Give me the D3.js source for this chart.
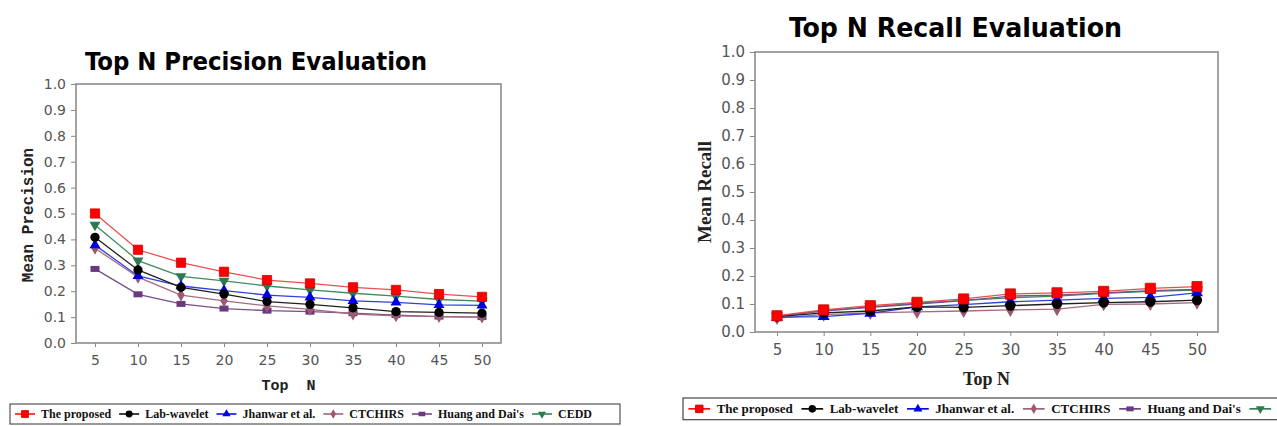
<!DOCTYPE html>
<html>
<head>
<meta charset="utf-8">
<script src="https://cdn.jsdelivr.net/npm/d3@7"></script>
<style>
  body { margin: 0; background: #fff; }
  svg { display: block; }
</style>
</head>
<body>
<div id="chart"></div>
<script>
// ---- data ----
const topN = [5, 10, 15, 20, 25, 30, 35, 40, 45, 50];
const methods = ["The proposed", "Lab-wavelet", "Jhanwar et al.", "CTCHIRS", "Huang and Dai's", "CEDD"];
const yTicks = [0, 0.1, 0.2, 0.3, 0.4, 0.5, 0.6, 0.7, 0.8, 0.9, 1.0];

// precision
const precProposed = [0.500, 0.360, 0.310, 0.275, 0.243, 0.230, 0.215, 0.205, 0.189, 0.178];
const precLab      = [0.408, 0.282, 0.215, 0.189, 0.160, 0.149, 0.136, 0.121, 0.118, 0.115];
const precJhanwar  = [0.378, 0.259, 0.220, 0.202, 0.185, 0.176, 0.163, 0.157, 0.147, 0.145];
const precCtchirs  = [0.366, 0.254, 0.185, 0.163, 0.143, 0.130, 0.112, 0.105, 0.102, 0.100];
const precHuang    = [0.286, 0.188, 0.151, 0.133, 0.125, 0.121, 0.115, 0.108, 0.102, 0.100];
const precCedd     = [0.456, 0.318, 0.257, 0.240, 0.220, 0.205, 0.192, 0.181, 0.168, 0.162];

// recall
const recProposed = [0.058, 0.079, 0.094, 0.106, 0.118, 0.136, 0.140, 0.145, 0.156, 0.162];
const recLab      = [0.055, 0.068, 0.075, 0.090, 0.088, 0.094, 0.100, 0.105, 0.108, 0.114];
const recJhanwar  = [0.053, 0.055, 0.067, 0.090, 0.098, 0.108, 0.114, 0.120, 0.124, 0.140];
const recCtchirs  = [0.050, 0.062, 0.068, 0.072, 0.075, 0.079, 0.082, 0.099, 0.100, 0.105];
const recHuang    = [0.057, 0.075, 0.088, 0.100, 0.112, 0.128, 0.132, 0.140, 0.148, 0.152];
const recCedd     = [0.056, 0.077, 0.090, 0.103, 0.113, 0.122, 0.128, 0.138, 0.145, 0.150];

const lineColors = ["#e8504f", "#202020", "#3040e0", "#a86a80", "#74508c", "#3f8c5f"];
const markColors = ["#ff0000", "#000000", "#0000e0", "#9c5a70", "#6a3a80", "#2d7a50"];
const markTypes  = ["square", "circle", "triUp", "diamond", "rect", "triDown"];

const W = 1277, H = 426;
const svg = d3.select("#chart").append("svg")
    .attr("width", W)
    .attr("height", H);

svg.append("rect").attr("width", W).attr("height", H).attr("fill", "#fff");

// draw one marker at (cx, cy), s = scale factor
function marker(g, type, color, cx, cy, s) {
    if (type === "rect") {
        g.append("rect")
            .attr("x", cx - 4.5 * s).attr("y", cy - 3 * s)
            .attr("width", 9 * s).attr("height", 6 * s)
            .attr("fill", color);
        return;
    }
    let sym, size, rot = 0;
    if (type === "square") { sym = d3.symbolSquare; size = 85; }
    if (type === "circle") { sym = d3.symbolCircle; size = 68; }
    if (type === "triUp") { sym = d3.symbolTriangle; size = 52; }
    if (type === "triDown") { sym = d3.symbolTriangle; size = 52; rot = 180; }
    if (type === "diamond") { sym = d3.symbolDiamond; size = 48; }
    g.append("path")
        .attr("d", d3.symbol().type(sym).size(size * s * s)())
        .attr("transform", `translate(${cx},${cy}) rotate(${rot})`)
        .attr("fill", color)
        .attr("stroke", type === "square" ? "#d00000" : "none")
        .attr("stroke-width", 0.8);
}

function drawChart(cfg) {
    const g = svg.append("g");
    const x = d3.scaleLinear().domain([5, 50]).range([cfg.x5, cfg.x50]);
    const y = d3.scaleLinear().domain([0, 1]).range([cfg.bottom, cfg.top]);

    // title
    g.append("text")
        .attr("x", cfg.titleX).attr("y", cfg.titleY)
        .attr("textLength", cfg.titleLen)
        .attr("lengthAdjust", "spacingAndGlyphs")
        .attr("font-family", "'DejaVu Sans Condensed', 'DejaVu Sans', sans-serif")
        .attr("font-weight", "bold")
        .attr("font-size", cfg.titleSize)
        .attr("fill", "#000")
        .text(cfg.title);

    // y axis
    const ya = g.append("g")
        .attr("transform", `translate(${cfg.left},0)`)
        .call(d3.axisLeft(y).tickValues(yTicks).tickFormat(d3.format(".1f"))
            .tickSize(5).tickPadding(5));
    ya.select(".domain").remove();
    ya.attr("font-family", "'DejaVu Sans', sans-serif").attr("font-size", cfg.tickSize);
    ya.selectAll("text").attr("fill", "#555");
    ya.selectAll("line").attr("stroke", "#888");

    // x axis
    const xa = g.append("g")
        .attr("transform", `translate(0,${cfg.bottom})`)
        .call(d3.axisBottom(x).tickValues(topN).tickSize(4).tickPadding(8));
    xa.select(".domain").remove();
    xa.attr("font-family", "'DejaVu Sans', sans-serif").attr("font-size", cfg.tickSize);
    xa.selectAll("text").attr("fill", "#555");
    xa.selectAll("line").attr("stroke", "#888");

    // plot box
    g.append("rect")
        .attr("x", cfg.left).attr("y", cfg.top)
        .attr("width", cfg.right - cfg.left)
        .attr("height", cfg.bottom - cfg.top)
        .attr("fill", "none")
        .attr("stroke", "#8c8c8c")
        .attr("stroke-width", 1.6);

    // axis titles
    g.append("text")
        .attr("transform", `translate(${cfg.yTitleX},${cfg.yTitleY}) rotate(-90)`)
        .attr("text-anchor", "middle")
        .attr("font-family", cfg.axisFont)
        .attr("font-weight", "bold")
        .attr("font-size", cfg.yTitleSize)
        .attr("fill", "#222")
        .style("white-space", "pre")
        .text(cfg.yTitle);

    g.append("text")
        .attr("x", (cfg.left + cfg.right) / 2).attr("y", cfg.xTitleY)
        .attr("text-anchor", "middle")
        .attr("font-family", cfg.axisFont)
        .attr("font-weight", "bold")
        .attr("font-size", cfg.xTitleSize)
        .attr("fill", "#222")
        .style("white-space", "pre")
        .text(cfg.xTitle);

    // series, last drawn on top
    const line = d3.line().x((d, i) => x(topN[i])).y(d => y(d));
    for (let k = cfg.series.length - 1; k >= 0; k--) {
        const vals = cfg.series[k];
        g.append("path")
            .attr("d", line(vals))
            .attr("fill", "none")
            .attr("stroke", lineColors[k])
            .attr("stroke-width", 1.3);
        const mg = g.append("g");
        vals.forEach((v, i) => marker(mg, markTypes[k], markColors[k], x(topN[i]), y(v), cfg.markScale));
    }

    // legend (items past the page edge keep only their marker, as in the picture)
    const lg = svg.append("g")
        .attr("transform", `translate(${cfg.legX},${cfg.legY}) scale(${cfg.legScale})`);
    lg.append("rect")
        .attr("x", 0).attr("y", 0)
        .attr("width", cfg.legW).attr("height", 20)
        .attr("fill", "#fff")
        .attr("stroke", "#333")
        .attr("stroke-width", 1);
    let cx = 5;
    const maxX = (W - cfg.legX) / cfg.legScale;
    methods.forEach((m, k) => {
        if (cx > maxX) return;
        lg.append("line")
            .attr("x1", cx).attr("x2", cx + 20)
            .attr("y1", 10).attr("y2", 10)
            .attr("stroke", markColors[k]).attr("stroke-width", 1.5);
        marker(lg, markTypes[k], markColors[k], cx + 10, 10, 0.75);
        if (cx + 26 > maxX - 10) { cx = maxX + 1; return; }
        const t = lg.append("text")
            .attr("x", cx + 26).attr("y", 14)
            .attr("font-family", "'Liberation Serif', serif")
            .attr("font-weight", "bold")
            .attr("font-size", 12)
            .attr("fill", "#111")
            .text(m);
        cx += 26 + t.node().getComputedTextLength() + 8;
    });
}

drawChart({
    title: "Top N Precision Evaluation",
    titleX: 85, titleY: 70, titleLen: 342, titleSize: 25,
    left: 76, right: 501, top: 84, bottom: 343,
    x5: 95, x50: 482,
    tickSize: 14,
    axisFont: "'Liberation Mono', 'Courier New', monospace",
    yTitle: "Mean Precision", yTitleX: 33, yTitleY: 215, yTitleSize: 16,
    xTitle: "Top  N", xTitleY: 390, xTitleSize: 15,
    markScale: 1,
    series: [precProposed, precLab, precJhanwar, precCtchirs, precHuang, precCedd],
    legX: 10, legY: 404, legScale: 1, legW: 610
});

drawChart({
    title: "Top N Recall Evaluation",
    titleX: 789, titleY: 37, titleLen: 333, titleSize: 27,
    left: 755, right: 1218, top: 52, bottom: 332,
    x5: 777, x50: 1197,
    tickSize: 15,
    axisFont: "'Liberation Serif', 'Times New Roman', serif",
    yTitle: "Mean Recall", yTitleX: 711, yTitleY: 192, yTitleSize: 19,
    xTitle: "Top N", xTitleY: 385, xTitleSize: 18,
    markScale: 1.1,
    series: [recProposed, recLab, recJhanwar, recCtchirs, recHuang, recCedd],
    legX: 683, legY: 398, legScale: 1.086, legW: 620
});
</script>
</body>
</html>
